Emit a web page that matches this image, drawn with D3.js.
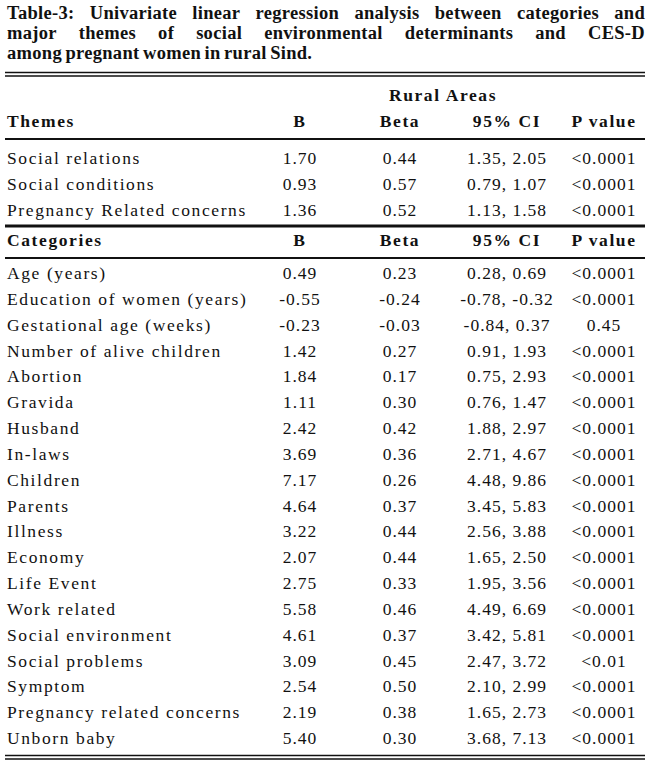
<!DOCTYPE html>
<html lang="en">
  <head>
    <meta charset="UTF-8" />
    <title>Table-3</title>
    <script src="https://cdn.jsdelivr.net/npm/d3@7"></script>
    <style>
      body { margin: 0; background: #fff; }
      text { font-family: "Liberation Serif", "Times New Roman", serif; fill: #111; }
      .bold { font-weight: bold; }
    </style>
  </head>
  <body>
    <script>
      const width = 650;
      const height = 769;
      const fontSize = 17.5;
      const spacing = 1;
      const labelSpacing = 1.6;

      const titleLines = [
        "Table-3: Univariate linear regression analysis between categories and",
        "major themes of social environmental determinants and CES-D",
        "among pregnant women in rural Sind.",
      ];
      const columns = ["B", "Beta", "95% CI", "P value"];

      const themes = ["Social relations", "Social conditions", "Pregnancy Related concerns"];
      const themeB = ["1.70", "0.93", "1.36"];
      const themeBeta = ["0.44", "0.57", "0.52"];
      const themeCI = ["1.35, 2.05", "0.79, 1.07", "1.13, 1.58"];
      const themeP = ["<0.0001", "<0.0001", "<0.0001"];

      const categories = [
        "Age (years)", "Education of women (years)", "Gestational age (weeks)",
        "Number of alive children", "Abortion", "Gravida", "Husband", "In-laws",
        "Children", "Parents", "Illness", "Economy", "Life Event", "Work related",
        "Social environment", "Social problems", "Symptom",
        "Pregnancy related concerns", "Unborn baby",
      ];
      const catB = ["0.49", "-0.55", "-0.23", "1.42", "1.84", "1.11", "2.42", "3.69", "7.17",
        "4.64", "3.22", "2.07", "2.75", "5.58", "4.61", "3.09", "2.54", "2.19", "5.40"];
      const catBeta = ["0.23", "-0.24", "-0.03", "0.27", "0.17", "0.30", "0.42", "0.36", "0.26",
        "0.37", "0.44", "0.44", "0.33", "0.46", "0.37", "0.45", "0.50", "0.38", "0.30"];
      const catCI = ["0.28, 0.69", "-0.78, -0.32", "-0.84, 0.37", "0.91, 1.93", "0.75, 2.93",
        "0.76, 1.47", "1.88, 2.97", "2.71, 4.67", "4.48, 9.86", "3.45, 5.83", "2.56, 3.88",
        "1.65, 2.50", "1.95, 3.56", "4.49, 6.69", "3.42, 5.81", "2.47, 3.72", "2.10, 2.99",
        "1.65, 2.73", "3.68, 7.13"];
      const catP = ["<0.0001", "<0.0001", "0.45", "<0.0001", "<0.0001", "<0.0001", "<0.0001",
        "<0.0001", "<0.0001", "<0.0001", "<0.0001", "<0.0001", "<0.0001", "<0.0001", "<0.0001",
        "<0.01", "<0.0001", "<0.0001", "<0.0001"];

      const left = 7;
      const right = 643;

      const svg = d3.select("body").append("svg")
        .attr("width", width)
        .attr("height", height);

      // column centres
      const x = d3.scaleOrdinal().domain(columns).range([300, 400, 507, 604]);

      // title, first two lines justified by word spacing
      titleLines.forEach((line, i) => {
        const yy = 19 + i * 20;
        const words = line.split(" ");
        const g = svg.append("g");
        const nodes = words.map((w) =>
          g.append("text").attr("class", "bold")
            .attr("y", yy)
            .style("font-size", "18.5px")
            .style("letter-spacing", "0.3px")
            .text(w)
        );
        const widths = nodes.map((n) => n.node().getComputedTextLength());
        const total = d3.sum(widths);
        const gap = i < 2 ? (right + 2 - left - total) / (words.length - 1) : 3.5;
        let cx = left;
        nodes.forEach((n, j) => {
          n.attr("x", cx);
          cx += widths[j] + gap;
        });
      });

      function hline(y, w) {
        svg.append("line")
          .attr("x1", 5).attr("x2", 645)
          .attr("y1", y).attr("y2", y)
          .attr("stroke", "#111")
          .attr("stroke-width", w);
      }

      hline(72.5, 1.5);
      hline(76, 1.5);

      svg.append("text").attr("class", "bold")
        .attr("x", 443).attr("y", 101)
        .attr("text-anchor", "middle")
        .style("font-size", fontSize + "px")
        .style("letter-spacing", labelSpacing + "px")
        .text("Rural Areas");

      function header(label, y) {
        const g = svg.append("g")
          .style("font-size", fontSize + "px")
          .style("letter-spacing", labelSpacing + "px");
        g.append("text").attr("class", "bold").attr("x", left).attr("y", y).text(label);
        g.selectAll("text.col").data(columns).join("text")
          .attr("class", "col bold")
          .attr("x", (d) => x(d))
          .attr("y", y)
          .attr("text-anchor", "middle")
          .text((d) => d);
      }

      function block(labels, cols, y) {
        const g = svg.append("g")
          .style("font-size", fontSize + "px")
          .style("letter-spacing", spacing + "px");
        const row = g.selectAll("g").data(labels).join("g")
          .attr("transform", (d) => `translate(0,${y(d)})`);
        row.append("text")
          .attr("x", left)
          .style("letter-spacing", labelSpacing + "px")
          .text((d) => d);
        columns.forEach((c, ci) => {
          row.append("text")
            .attr("x", x(c))
            .attr("text-anchor", "middle")
            .text((d, i) => cols[ci][i]);
        });
      }

      header("Themes", 127);
      hline(139, 2);

      const yThemes = d3.scalePoint().domain(themes).range([164, 216]);
      block(themes, [themeB, themeBeta, themeCI, themeP], yThemes);

      hline(226, 3);
      header("Categories", 246);
      hline(258, 2);

      const yCats = d3.scalePoint().domain(categories).range([279, 744]);
      block(categories, [catB, catBeta, catCI, catP], yCats);

      hline(755.5, 1.5);
      hline(759, 1.5);
    </script>
  </body>
</html>
